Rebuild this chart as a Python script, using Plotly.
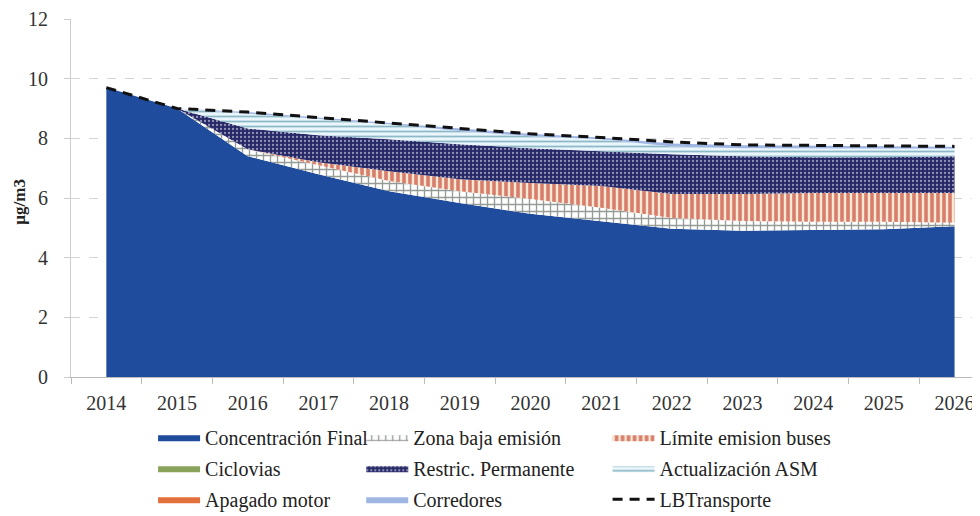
import plotly.graph_objects as go

years = ["2014", "2015", "2016", "2017", "2018", "2019", "2020",
         "2021", "2022", "2023", "2024", "2025", "2026"]

concentracion_final = [9.70, 9.00, 7.40, 6.80, 6.23, 5.83, 5.47, 5.23, 4.97, 4.90, 4.92, 4.95, 5.05]
zona_baja_emision   = [0.00, 0.00, 0.23, 0.30, 0.34, 0.40, 0.50, 0.44, 0.36, 0.33, 0.28, 0.25, 0.12]
limite_buses        = [0.00, 0.00, 0.00, 0.10, 0.33, 0.40, 0.53, 0.73, 0.80, 0.90, 0.97, 0.97, 1.00]
ciclovias           = [0.00, 0.00, 0.00, 0.00, 0.00, 0.00, 0.00, 0.00, 0.00, 0.00, 0.00, 0.00, 0.00]
restric_permanente  = [0.00, 0.00, 0.70, 0.90, 1.07, 1.17, 1.17, 1.17, 1.34, 1.27, 1.20, 1.20, 1.23]
actualizacion_asm   = [0.00, 0.00, 0.50, 0.55, 0.50, 0.45, 0.40, 0.40, 0.26, 0.27, 0.30, 0.28, 0.25]
apagado_motor       = [0.00, 0.00, 0.00, 0.00, 0.00, 0.00, 0.00, 0.00, 0.00, 0.00, 0.00, 0.00, 0.00]
corredores          = [0.00, 0.00, 0.05, 0.05, 0.05, 0.07, 0.08, 0.06, 0.10, 0.10, 0.08, 0.08, 0.07]
lb_transporte       = [9.70, 9.00, 8.88, 8.70, 8.52, 8.32, 8.15, 8.03, 7.88, 7.78, 7.76, 7.74, 7.73]

FONT = "'Liberation Serif', 'Times New Roman', Times, serif"

fig = go.Figure()

def area(name, vals, color, legend, pattern=None):
    kw = dict(x=years, y=vals, name=name, mode="lines", stackgroup="one",
              line=dict(width=0, color=color), fillcolor=color,
              legend=legend, legendgroup=name, hoverinfo="skip")
    if pattern:
        kw["fillpattern"] = pattern
    fig.add_trace(go.Scatter(**kw))

area("Concentración Final", concentracion_final, "#1f4c9c", "legend")
area("Zona baja emisión", zona_baja_emision, "#ffffff", "legend2",
     dict(shape="+", fgcolor="#2c3a30", bgcolor="#ffffff", size=7, solidity=0.35))
area("Límite emision buses", limite_buses, "#c8281e", "legend3",
     dict(shape="|", fgcolor="#b81008", bgcolor="#f8ead2", size=6, solidity=0.6))
area("Ciclovias", ciclovias, "#8aa35a", "legend")
area("Restric. Permanente", restric_permanente, "#2a2c6c", "legend2",
     dict(shape=".", fgcolor="#ffffff", bgcolor="#262868", size=4, solidity=0.25))
area("Actualización ASM", actualizacion_asm, "#e6f2fa", "legend3",
     dict(shape="-", fgcolor="#2e7d8e", bgcolor="#eaf5fc", size=5, solidity=0.35))
area("Apagado motor", apagado_motor, "#e2703c", "legend")
area("Corredores", corredores, "#9fb6e2", "legend2")

fig.add_trace(go.Scatter(x=years, y=lb_transporte, name="LBTransporte", mode="lines",
                         line=dict(color="#111111", width=3, dash="10px,7px"),
                         legend="legend3", legendgroup="LBTransporte", hoverinfo="skip"))

leg_common = dict(orientation="v", yanchor="top", xanchor="left", y=-0.114,
                  font=dict(family=FONT, size=20, color="#222222"),
                  bgcolor="rgba(0,0,0,0)", itemwidth=42, tracegroupgap=2,
                  traceorder="grouped", itemclick=False, itemdoubleclick=False)

fig.update_layout(
    width=980, height=516,
    margin=dict(l=63, r=8, t=11, b=147, autoexpand=False),
    paper_bgcolor="white", plot_bgcolor="white",
    showlegend=True,
    legend=dict(x=0.0903, **leg_common),
    legend2=dict(x=0.3193, **leg_common),
    legend3=dict(x=0.5903, **leg_common),
    font=dict(family=FONT, size=20, color="#333333"),
    annotations=[dict(text="<b>µg/m3</b>", xref="paper", yref="paper",
                      x=-0.057, y=0.49, xanchor="center", yanchor="middle",
                      textangle=-90, showarrow=False,
                      font=dict(family=FONT, size=17, color="#222222"))],
)

fig.update_xaxes(type="category", range=[-0.5, 12.36], tickson="boundaries",
                 ticks="outside", ticklen=6, tickcolor="#bbbbbb",
                 showgrid=False, showline=True, linecolor="#bbbbbb",
                 tickfont=dict(family=FONT, size=20, color="#333333"),
                 ticklabelstandoff=8, automargin=False)
fig.update_yaxes(range=[0, 12], dtick=2, showgrid=True, gridcolor="#d4d4d4",
                 griddash="dash", gridwidth=1, zeroline=False,
                 showline=True, linecolor="#cccccc", ticks="outside", ticklen=6,
                 tickcolor="#cccccc",
                 tickfont=dict(family=FONT, size=20, color="#333333"),
                 ticklabelstandoff=12, automargin=False,
                 ticklabeloverflow="allow")

fig.write_html("out.html")
